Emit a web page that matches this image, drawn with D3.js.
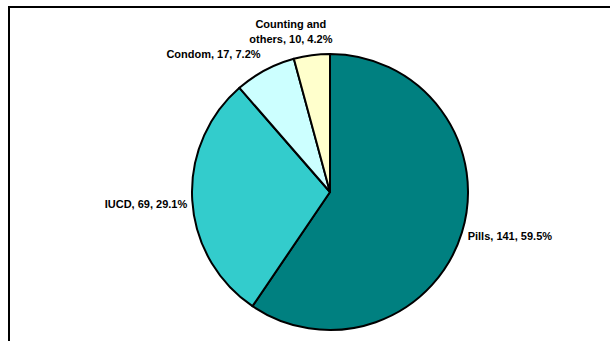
<!DOCTYPE html>
<meta charset="utf-8">
<script src="https://d3js.org/d3.v7.min.js"></script>
<style>
  body { margin: 0; background: #fff; }
</style>
<div id="my_dataviz"></div>
<script>

  // data
  var categories = ["Pills", "IUCD", "Condom", "Counting and others"];
  var counts = [141, 69, 17, 10];
  var percents = ["59.5%", "29.1%", "7.2%", "4.2%"];
  var colors = ["#008080", "#33CCCC", "#CCFFFF", "#FFFFCC"];

  // label text lines
  var labelLines = [
    ["Pills, 141, 59.5%"],
    ["IUCD, 69, 29.1%"],
    ["Condom, 17, 7.2%"],
    ["Counting and", "others, 10, 4.2%"]
  ];

  var width = 610, height = 341;
  var cx = 330, cy = 192, radius = 138;

  var svg = d3.select("#my_dataviz")
    .append("svg")
      .attr("width", width)
      .attr("height", height);

  // chart frame (runs off the right and bottom of the window)
  svg.append("rect")
    .attr("x", 9).attr("y", 7)
    .attr("width", 640).attr("height", 360)
    .attr("fill", "none")
    .attr("stroke", "#000")
    .attr("stroke-width", 2);

  var g = svg.append("g")
    .attr("transform", "translate(" + cx + "," + cy + ")");

  var data = categories.map(function(c, i) {
    return {name: c, value: counts[i], pct: percents[i], color: colors[i], lines: labelLines[i]};
  });

  var pie = d3.pie()
    .sort(null)
    .value(function(d) { return d.value; });

  var arc = d3.arc().innerRadius(0).outerRadius(radius);

  var arcs = pie(data);

  g.selectAll("path.slice")
    .data(arcs)
    .enter()
    .append("path")
      .attr("class", "slice")
      .attr("d", arc)
      .attr("fill", function(d) { return d.data.color; })
      .attr("stroke", "#000")
      .attr("stroke-width", 2)
      .attr("stroke-linejoin", "round");

  // labels: placed on an outer ring, then nudged the way Excel did it
  var labelRadius = [144, 143, 156, 160];
  var nudge = [[0, 2], [0, 3], [4, 0], [-18, -2]];
  var anchors = ["start", "end", "end", "middle"];

  g.selectAll("text.lbl")
    .data(arcs)
    .enter()
    .append("text")
      .attr("class", "lbl")
      .attr("font-family", "Liberation Sans, Arial, sans-serif")
      .attr("font-size", "11px")
      .attr("font-weight", "bold")
      .attr("fill", "#000")
      .attr("text-anchor", function(d, i) { return anchors[i]; })
      .each(function(d, i) {
        var a = (d.startAngle + d.endAngle) / 2;
        var r = labelRadius[i];
        var x = Math.sin(a) * r + nudge[i][0];
        var y = -Math.cos(a) * r + nudge[i][1];
        var lines = d.data.lines;
        var lh = 15;
        var y0 = y - (lines.length - 1) * lh / 2 + 4;
        var t = d3.select(this);
        lines.forEach(function(l, k) {
          t.append("tspan")
            .attr("x", x)
            .attr("y", y0 + k * lh)
            .text(l);
        });
      });

</script>
